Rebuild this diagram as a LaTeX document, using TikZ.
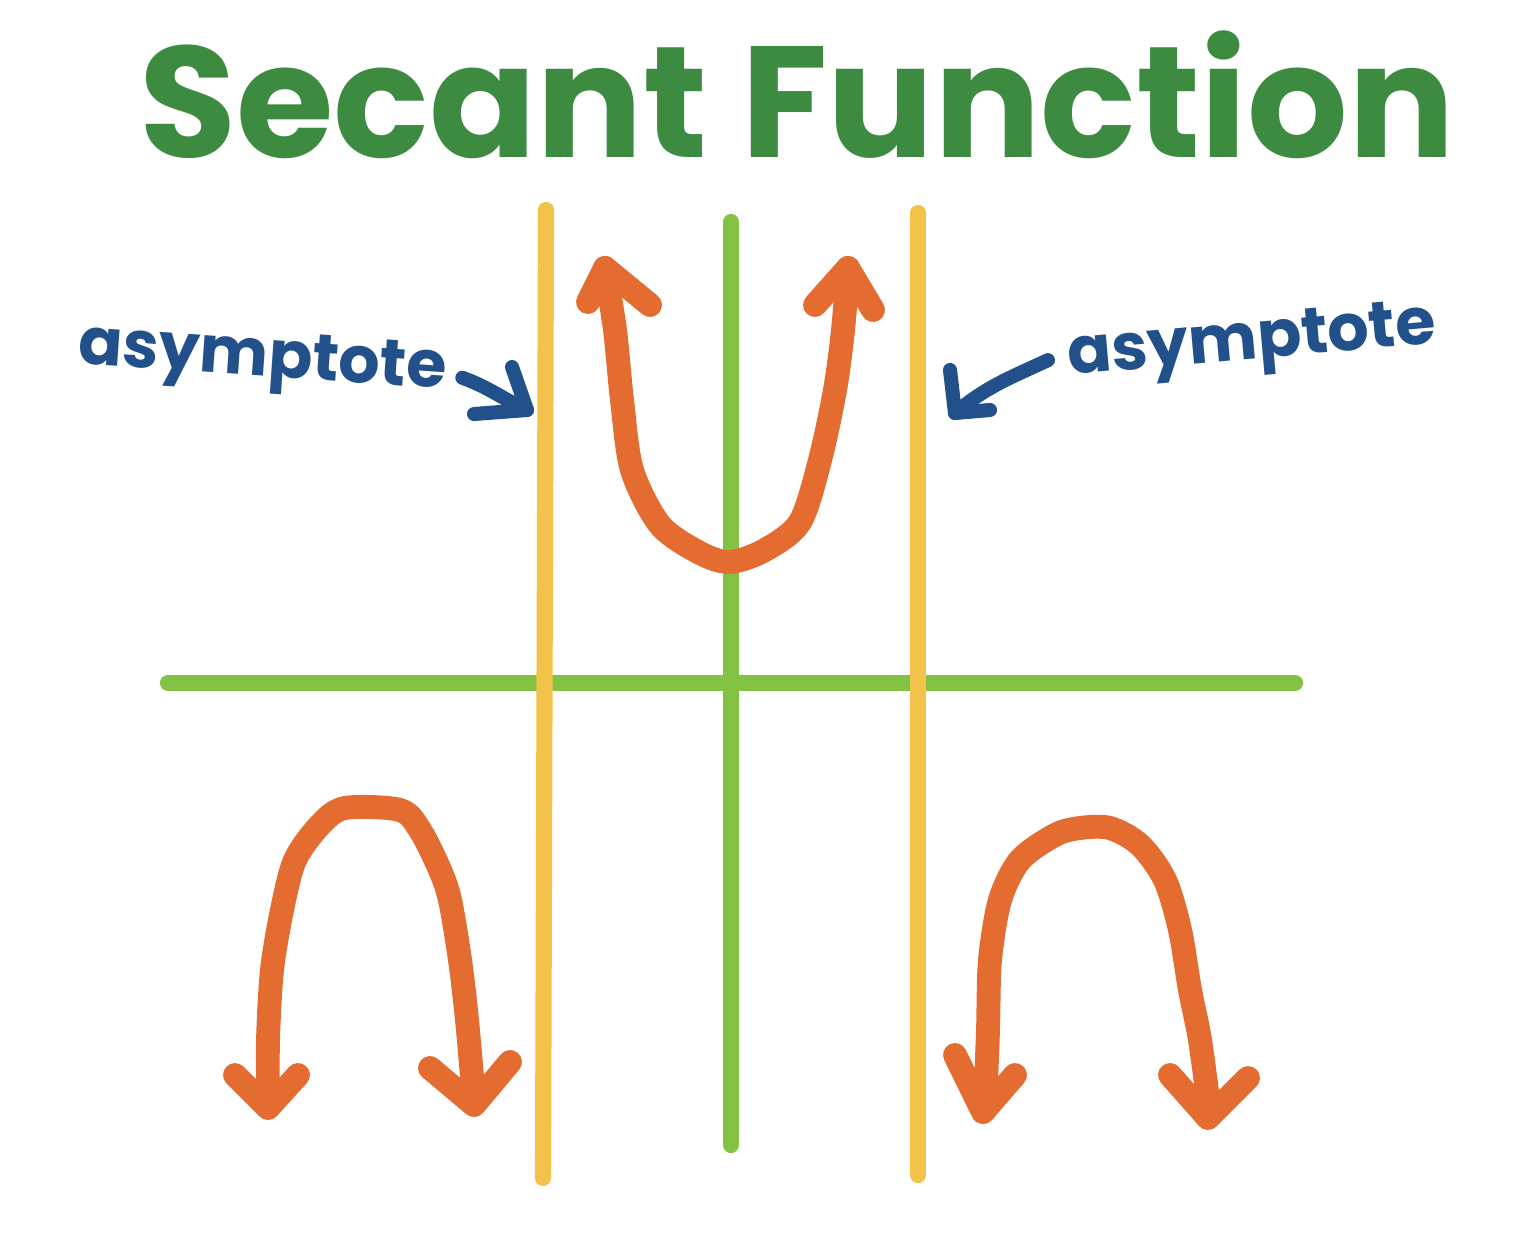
\documentclass[tikz,border=0pt]{standalone}
\usepackage{fontspec}
\setmainfont{Poppins}
\definecolor{titlegreen}{HTML}{3D8B41}
\definecolor{axisgreen}{HTML}{82C341}
\definecolor{asymyellow}{HTML}{F3C24B}
\definecolor{curveorange}{HTML}{E46C30}
\definecolor{noteblue}{HTML}{22508A}
\tikzset{
  axis/.style={axisgreen, line width=4.6pt, line cap=round},
  asym/.style={asymyellow, line width=4.6pt, line cap=round},
  branch/.style={curveorange, line width=6.8pt, line cap=round, line join=round},
  note/.style={noteblue, font=\fontsize{18.5}{22}\selectfont\bfseries},
  pointer/.style={noteblue, line width=4pt, line cap=round, line join=round}
}
\begin{document}
\begin{tikzpicture}[x=0.1mm, y=-0.1mm]
    \useasboundingbox (0,0) rectangle (1518,1249);

    % Title
    \node (title) at (797,95) [titlegreen, font=\fontsize{45}{52}\selectfont\bfseries] {Secant Function};

    % Axes
    \draw[axis] (168,683) -- (1295,683);
    \draw[axis] (731,222) -- (731,1145);

    % Asymptotes
    \draw[asym] (546,210) -- (543,1178);
    \draw[asym] (918,213) -- (918,1175);

    % Upper branch
    \draw[branch] plot[smooth] coordinates {(605,268) (615,330) (622,400) (632,470) (660,525) (700,553) (730,562) (765,550) (800,522) (820,460) (835,390) (843,330) (848,268)};
    \draw[branch] (588,302) -- (605,268) -- (650,305);
    \draw[branch] (815,305) -- (848,268) -- (873,310);

    % Lower left branch
    \draw[branch] plot[smooth] coordinates {(268,1105) (268,1040) (272,970) (282,910) (295,860) (320,825) (345,808) (400,810) (420,830) (440,870) (450,900) (460,960) (467,1020) (474,1100)};
    \draw[branch] (235,1075) -- (268,1108) -- (298,1075);
    \draw[branch] (430,1068) -- (474,1105) -- (510,1062);

    % Lower right branch
    \draw[branch] plot[smooth] coordinates {(985,1110) (988,1030) (990,960) (1000,900) (1020,860) (1055,835) (1080,828) (1110,828) (1140,845) (1165,880) (1180,930) (1190,990) (1200,1040) (1210,1115)};
    \draw[branch] (955,1055) -- (983,1112) -- (1015,1075);
    \draw[branch] (1170,1075) -- (1208,1118) -- (1248,1078);

    % Labels
    \node (leftnote) at (262,362) [note, rotate=-4] {asymptote};
    \node (rightnote) at (1252,345) [note, rotate=5] {asymptote};
    \coordinate (lefttip) at (527,410);
    \coordinate (righttip) at (955,413);
    \draw[pointer] (leftnote.east) ++(4,2) to[out=-20, in=155] (lefttip);
    \draw[pointer] (512,367) -- (lefttip) -- (474,414);
    \draw[pointer] (rightnote.west) ++(-8,-2) to[out=205, in=40] (righttip);
    \draw[pointer] (950,370) -- (righttip) -- (990,410);
\end{tikzpicture}
\end{document}
